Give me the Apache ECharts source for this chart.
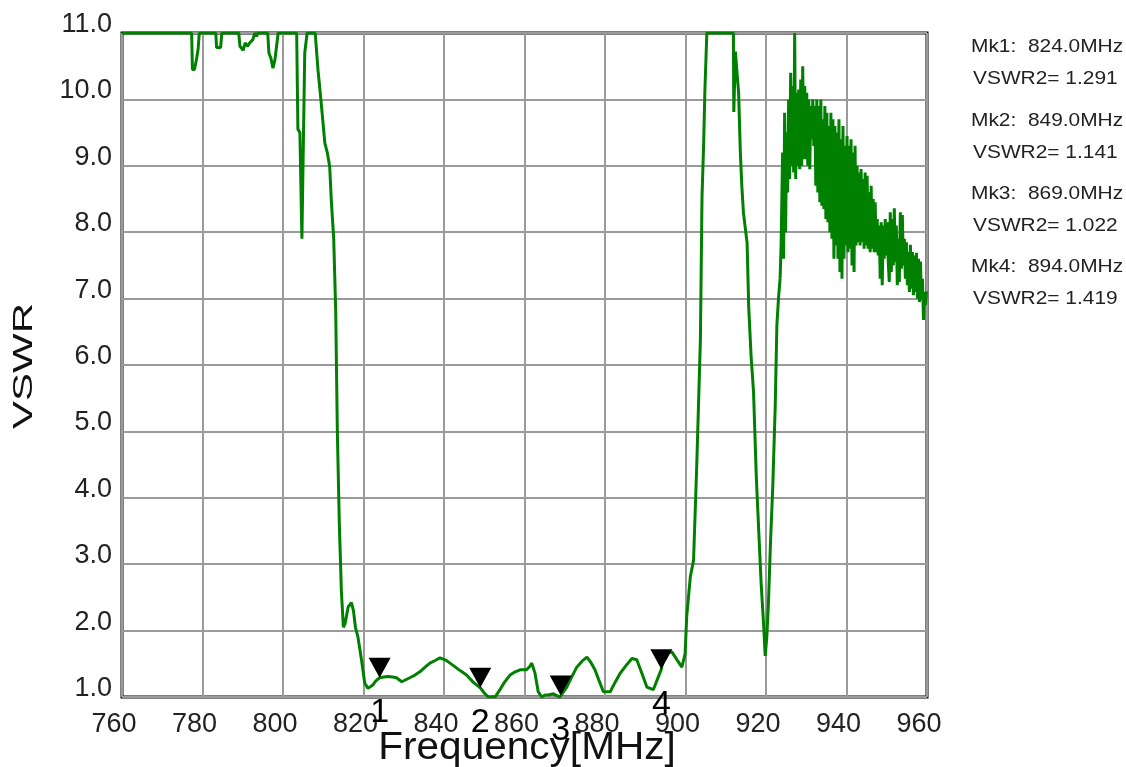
<!DOCTYPE html>
<html>
<head>
<meta charset="utf-8">
<script src="https://cdn.jsdelivr.net/npm/echarts@6/dist/echarts.min.js"></script>
<style>
html,body{margin:0;padding:0;background:#fff;}
#chart{width:1126px;height:767px;}
</style>
</head>
<body>
<div id="chart"></div>
<script>
// ---- data: smooth part of the trace (760 .. 923.5 MHz) ----
var freqMHz = [
760,777.3,777.5,778.0,778.5,778.9,779.2,783.3,783.5,784.5,784.8,789.0,789.3,790.1,790.6,791.2,791.7,792.5,793.0,793.4,793.8,
796.2,796.5,797.0,797.5,798.0,798.4,798.8,803.4,803.7,804.2,804.7,805.0,805.4,806.0,808.0,808.7,809.5,810.4,811.0,811.6,
812.0,812.6,813.1,813.5,814.0,814.5,815.0,815.4,816.2,817.0,817.5,818.0,818.6,819.5,820.3,821.1,822.3,823.0,824.0,825.0,
826.1,827.2,828.2,829.5,830.5,831.5,832.8,834.0,835.3,836.5,837.8,839.0,840.3,841.5,843.5,845.6,847.3,849.0,850.0,851.0,
852.7,853.9,855.0,856.4,857.7,858.9,860.5,861.3,861.8,862.6,863.4,864.3,865.1,865.9,867.2,868.0,868.8,869.0,870.5,871.7,
873.0,874.3,875.5,876.5,877.5,878.5,879.6,881.3,882.5,883.8,885.3,886.7,887.9,889.2,890.4,892.0,893.3,894.0,894.5,895.5,
896.6,897.9,899.1,899.9,900.3,901.2,902.0,902.8,903.7,904.1,904.5,904.8,905.3,911.9,912.0,912.4,912.8,913.2,913.6,914.0,
914.4,915.3,915.7,916.3,916.9,917.6,918.2,918.8,919.4,919.8,920.2,920.6,921.1,921.7,922.3,922.7,923.1,923.5
];
var vswr = [
11,11,10.45,10.45,10.6,10.75,11,11,10.78,10.78,11,11,10.8,10.74,10.85,10.8,10.85,10.9,11,10.95,11,
11,10.7,10.62,10.47,10.6,10.8,11,11,9.55,9.5,7.9,7.88,10.7,11,11,10.44,9.94,9.34,9.2,8.99,
8.48,7.9,6.8,5.0,3.6,2.6,2.05,2.1,2.36,2.42,2.3,2.05,1.91,1.56,1.21,1.13,1.18,1.24,1.29,1.30,
1.31,1.30,1.29,1.23,1.26,1.29,1.33,1.38,1.45,1.51,1.55,1.59,1.56,1.51,1.42,1.33,1.22,1.14,1.06,1.0,
1.0,1.11,1.22,1.33,1.38,1.41,1.41,1.46,1.51,1.36,1.08,1.0,1.03,1.03,1.05,1.02,1.0,1.02,1.15,1.3,
1.45,1.54,1.6,1.52,1.41,1.25,1.08,1.08,1.22,1.36,1.48,1.58,1.56,1.35,1.15,1.11,1.31,1.42,1.61,1.66,
1.68,1.56,1.45,1.65,2.21,2.81,3.06,4.5,6.38,8.53,9.31,10.1,11,11,9.81,10.72,10.4,10.1,9.24,8.69,
8.29,7.84,6.88,6.13,5.6,4.3,3.5,2.7,2.1,1.62,1.9,2.4,3.3,4.2,5.4,6.6,7.0,7.3
];
// ---- data: noisy part of the trace (923.5 .. 960 MHz) ----
var noisyFreqMHz = [
923.5,924.0,924.25,924.5,924.75,925.0,925.25,925.5,925.75,926.0,926.25,926.5,926.75,927.0,927.25,927.5,927.75,
928.0,928.25,928.5,928.75,929.0,929.25,929.5,929.75,930.0,930.25,930.5,930.75,931.0,931.25,931.5,931.75,
932.0,932.25,932.5,932.75,933.0,933.25,933.5,933.75,934.0,934.25,934.5,934.75,935.0,935.25,935.5,935.75,
936.0,936.25,936.5,936.75,937.0,937.25,937.5,937.75,938.0,938.25,938.5,938.75,939.0,939.25,939.5,939.75,
940.0,940.25,940.5,940.75,941.0,941.25,941.5,941.75,942.0,942.25,942.5,942.75,943.0,943.25,943.5,943.75,
944.0,944.25,944.5,944.75,945.0,945.25,945.5,945.75,946.0,946.25,946.5,946.75,947.0,947.25,947.5,947.75,
948.0,948.25,948.5,948.75,949.0,949.25,949.5,949.75,950.0,950.25,950.5,950.75,951.0,951.25,951.5,951.75,
952.0,952.25,952.5,952.75,953.0,953.25,953.5,953.75,954.0,954.25,954.5,954.75,955.0,955.25,955.5,955.75,
956.0,956.25,956.5,956.75,957.0,957.25,957.5,957.75,958.0,958.25,958.5,958.75,959.0,959.25,959.5,959.75,960.0
];
var noisyVswr = [
7.3,7.8,9.2,7.6,9.8,8.0,9.5,8.6,10.0,8.8,10.4,9.0,10.2,8.9,11.0,8.8,10.1,
9.0,10.15,8.95,10.3,9.0,10.5,9.1,10.2,9.1,10.1,9.0,10.0,8.95,9.9,9.4,10.0,
9.3,9.9,8.7,10.0,8.6,9.9,8.45,10.0,8.4,9.7,8.35,9.9,8.2,9.8,8.15,9.6,
8.0,9.8,7.9,9.7,7.6,9.6,7.8,9.5,7.6,9.7,7.4,9.4,7.3,9.6,7.6,9.3,
7.8,9.45,7.7,9.3,7.75,9.4,7.5,9.2,7.4,9.3,7.8,9.0,7.85,8.9,7.8,8.95,
7.85,8.8,7.75,8.9,7.8,8.85,7.75,8.6,7.7,8.7,7.75,8.5,7.7,8.45,7.7,8.2,
7.65,8.1,7.3,8.15,7.2,8.1,7.6,8.2,7.65,8.15,7.55,7.25,8.3,7.4,8.2,7.5,
8.36,7.55,8.1,7.2,7.9,7.25,8.3,7.45,8.26,7.5,7.9,7.3,7.85,7.2,7.7,7.1,
7.81,7.15,7.7,7.05,7.65,7.1,7.69,7.0,7.6,6.95,7.56,6.98,7.3,6.68,7.1,6.9,7.11
];
var markerFreq = [824.0, 849.0, 869.0, 894.0];
var markerVswr = [1.291, 1.141, 1.022, 1.419];
var xMin = 760, xMax = 960, xStep = 20;
var yMin = 1, yMax = 11, yStep = 1;

// ---- chart ----
var chart = echarts.init(document.getElementById('chart'), null, {renderer: 'canvas'});
var FONT = '"Liberation Sans", Arial, sans-serif';
var smoothPart = freqMHz.map(function (f, i) { return [f, vswr[i]]; });
var noisyPart = noisyFreqMHz.map(function (f, i) { return [f, noisyVswr[i]]; });
var mkData = markerFreq.map(function (f, i) { return [f, markerVswr[i]]; });

var graphics = [];
markerFreq.forEach(function (f, i) {
  graphics.push({
    type: 'text', x: 971, y: 47 + i * 73.3, scaleX: 1.1,
    style: {text: 'Mk' + (i + 1) + ':  ' + f.toFixed(1) + 'MHz', font: '19px ' + FONT, fill: '#222',
      textAlign: 'left', textVerticalAlign: 'middle'}
  });
  graphics.push({
    type: 'text', x: 973, y: 79 + i * 73.3, scaleX: 1.1,
    style: {text: 'VSWR2= ' + markerVswr[i].toFixed(3), font: '19px ' + FONT, fill: '#222',
      textAlign: 'left', textVerticalAlign: 'middle'}
  });
});
graphics.push({
  type: 'text', x: 24, y: 366, rotation: Math.PI / 2, scaleX: 1.5,
  style: {text: 'VSWR', font: '28px ' + FONT, fill: '#111', textAlign: 'center', textVerticalAlign: 'middle'}
});
graphics.push({
  type: 'text', x: 527, y: 748, scaleX: 1.04,
  style: {text: 'Frequency[MHz]', font: '39px ' + FONT, fill: '#111', textAlign: 'center', textVerticalAlign: 'middle'}
});

chart.setOption({
  animation: false,
  backgroundColor: '#fff',
  grid: {left: 122, right: 199, top: 33, bottom: 70, show: true, borderColor: '#000', borderWidth: 3},
  xAxis: {
    type: 'value', min: xMin, max: xMax, interval: xStep,
    axisLine: {show: false}, axisTick: {show: false},
    splitLine: {show: true, lineStyle: {color: '#9a9a9a', width: 2}},
    axisLabel: {fontSize: 27, fontFamily: FONT, color: '#222', margin: 14, padding: [0, 16, 0, 0]}
  },
  yAxis: {
    type: 'value', min: yMin, max: yMax, interval: yStep,
    axisLine: {show: false}, axisTick: {show: false},
    splitLine: {show: true, lineStyle: {color: '#9a9a9a', width: 2}},
    axisLabel: {fontSize: 27, fontFamily: FONT, color: '#222', margin: 10, verticalAlign: 'bottom', lineHeight: 17,
      formatter: function (v) { return v.toFixed(1); }}
  },
  graphic: graphics,
  series: [
    {
      type: 'line', data: smoothPart, showSymbol: false, symbol: 'none', clip: true,
      lineStyle: {color: '#008000', width: 3}, z: 3
    },
    {
      type: 'line', data: noisyPart, showSymbol: false, symbol: 'none', clip: true, step: 'middle',
      lineStyle: {color: '#008000', width: 3}, z: 3
    },
    {
      type: 'scatter', data: mkData, symbol: 'path://M0,0 L22,0 L11,20 Z', symbolSize: [22, 20],
      symbolOffset: [0, -10], itemStyle: {color: '#000', opacity: 1}, z: 5,
      label: {show: true, position: 'inside', offset: [0, 45], fontSize: 34, fontFamily: FONT, color: '#000',
        formatter: function (p) { return String(p.dataIndex + 1); }}
    }
  ]
});
</script>
</body>
</html>
